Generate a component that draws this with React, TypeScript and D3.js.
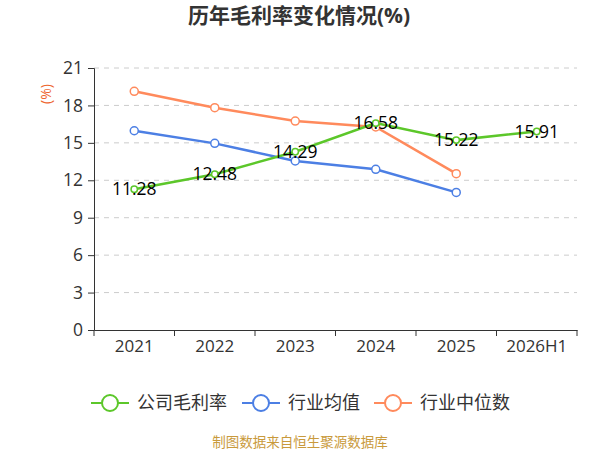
import { useEffect, useRef } from 'react';
import * as d3 from 'd3';

const years = ['2021', '2022', '2023', '2024', '2025', '2026H1'];
const companyMargin = [11.28, 12.48, 14.29, 16.58, 15.22, 15.91];
const industryAvg = [15.97, 14.96, 13.55, 12.88, 11.03];
const industryMedian = [19.13, 17.82, 16.75, 16.27, 12.53];
const yTicks = [0, 3, 6, 9, 12, 15, 18, 21];

const seriesList = [
    { name: '公司毛利率', values: companyMargin, color: '#5cc72a', r: 3.2, labels: true },
    { name: '行业均值', values: industryAvg, color: '#4c7fe4', r: 4, labels: false },
    { name: '行业中位数', values: industryMedian, color: '#ff8a5c', r: 4, labels: false },
];

const FONT = '"Open Sans", "Noto Sans CJK SC", sans-serif';

export default function App() {
    const ref = useRef<SVGSVGElement>(null);

    useEffect(() => {
        if (!ref.current) return;
        const svg = d3.select(ref.current);
        svg.selectAll('*').remove();

        const width = 600;
        const height = 450;
        const margin = { top: 68, right: 23, bottom: 120, left: 94 };
        const innerWidth = width - margin.left - margin.right;
        const innerHeight = height - margin.top - margin.bottom;

        const xScale = d3.scaleBand<string>().domain(years).range([0, innerWidth]);
        const yScale = d3.scaleLinear().domain([0, 21]).range([innerHeight, 0]);
        const cx = (i: number) => (xScale(years[i]) as number) + xScale.bandwidth() / 2;

        // title
        svg.append('text')
            .attr('x', 299)
            .attr('y', 23)
            .attr('text-anchor', 'middle')
            .attr('font-family', FONT)
            .attr('font-size', 21)
            .attr('font-weight', 'bold')
            .attr('fill', '#333')
            .text('历年毛利率变化情况(%)');

        // unit
        svg.append('text')
            .attr('transform', `translate(51,94) rotate(-90)`)
            .attr('text-anchor', 'middle')
            .attr('font-family', FONT)
            .attr('font-size', 14)
            .attr('fill', '#ee6630')
            .text('(%)');

        const g = svg.append('g').attr('transform', `translate(${margin.left},${margin.top})`);

        // grid lines
        g.selectAll('.grid')
            .data(yTicks.filter(t => t > 0))
            .enter()
            .append('line')
            .attr('x1', 0)
            .attr('x2', innerWidth)
            .attr('y1', d => yScale(d))
            .attr('y2', d => yScale(d))
            .attr('stroke', '#ccc')
            .attr('stroke-dasharray', '5,5');

        // y axis
        const yAxis = g.append('g').call(d3.axisLeft(yScale).tickValues(yTicks).tickSize(6).tickPadding(5));
        yAxis.select('.domain').attr('stroke', '#333');
        yAxis.selectAll('line').attr('stroke', '#333');
        yAxis.selectAll('text').attr('font-family', FONT).attr('font-size', 17.5).attr('fill', '#333');

        // x axis
        const xAxis = g.append('g')
            .attr('transform', `translate(0,${innerHeight})`)
            .call(d3.axisBottom(xScale).tickSize(0).tickPadding(10));
        xAxis.select('.domain').attr('stroke', '#333');
        xAxis.selectAll('text').attr('font-family', FONT).attr('font-size', 17).attr('fill', '#333');
        // boundary ticks
        xAxis.selectAll('.bt')
            .data(d3.range(years.length + 1))
            .enter()
            .append('line')
            .attr('x1', i => i * xScale.bandwidth())
            .attr('x2', i => i * xScale.bandwidth())
            .attr('y1', 0)
            .attr('y2', 6)
            .attr('stroke', '#333');

        const line = d3.line<number>()
            .x((_, i) => cx(i))
            .y(d => yScale(d));

        // draw lines (medians and averages under the company line)
        [...seriesList].reverse().forEach(s => {
            g.append('path')
                .datum(s.values)
                .attr('fill', 'none')
                .attr('stroke', s.color)
                .attr('stroke-width', 2.5)
                .attr('d', line);
            s.values.forEach((v, i) => {
                g.append('circle')
                    .attr('cx', cx(i))
                    .attr('cy', yScale(v))
                    .attr('r', s.r)
                    .attr('fill', '#fff')
                    .attr('stroke', s.color)
                    .attr('stroke-width', 1.5);
            });
        });

        // value labels
        seriesList.filter(s => s.labels).forEach(s => {
            s.values.forEach((v, i) => {
                g.append('text')
                    .attr('x', cx(i))
                    .attr('y', yScale(v))
                    .attr('dy', '0.35em')
                    .attr('text-anchor', 'middle')
                    .attr('font-family', FONT)
                    .attr('font-size', 17.5)
                    .attr('fill', '#000')
                    .text(v.toFixed(2));
            });
        });

        // legend
        const legendX = [91, 242, 374];
        seriesList.forEach((s, i) => {
            const lg = svg.append('g').attr('transform', `translate(${legendX[i]},403)`);
            lg.append('line')
                .attr('x1', 0).attr('x2', 38)
                .attr('y1', 0).attr('y2', 0)
                .attr('stroke', s.color)
                .attr('stroke-width', 2);
            lg.append('circle')
                .attr('cx', 19).attr('cy', 0).attr('r', 8)
                .attr('fill', '#fff')
                .attr('stroke', s.color)
                .attr('stroke-width', 2);
            lg.append('text')
                .attr('x', 46)
                .attr('y', 0)
                .attr('dy', '0.35em')
                .attr('font-family', FONT)
                .attr('font-size', 18)
                .attr('fill', '#333')
                .text(s.name);
        });

        // source
        svg.append('text')
            .attr('x', 300)
            .attr('y', 447)
            .attr('text-anchor', 'middle')
            .attr('font-family', FONT)
            .attr('font-size', 13.5)
            .attr('fill', '#c99a3c')
            .text('制图数据来自恒生聚源数据库');
    }, []);

    return (
        <svg ref={ref} width={600} height={450} style={{ position: 'absolute', left: 0, top: 0, background: '#fff' }} />
    );
}
